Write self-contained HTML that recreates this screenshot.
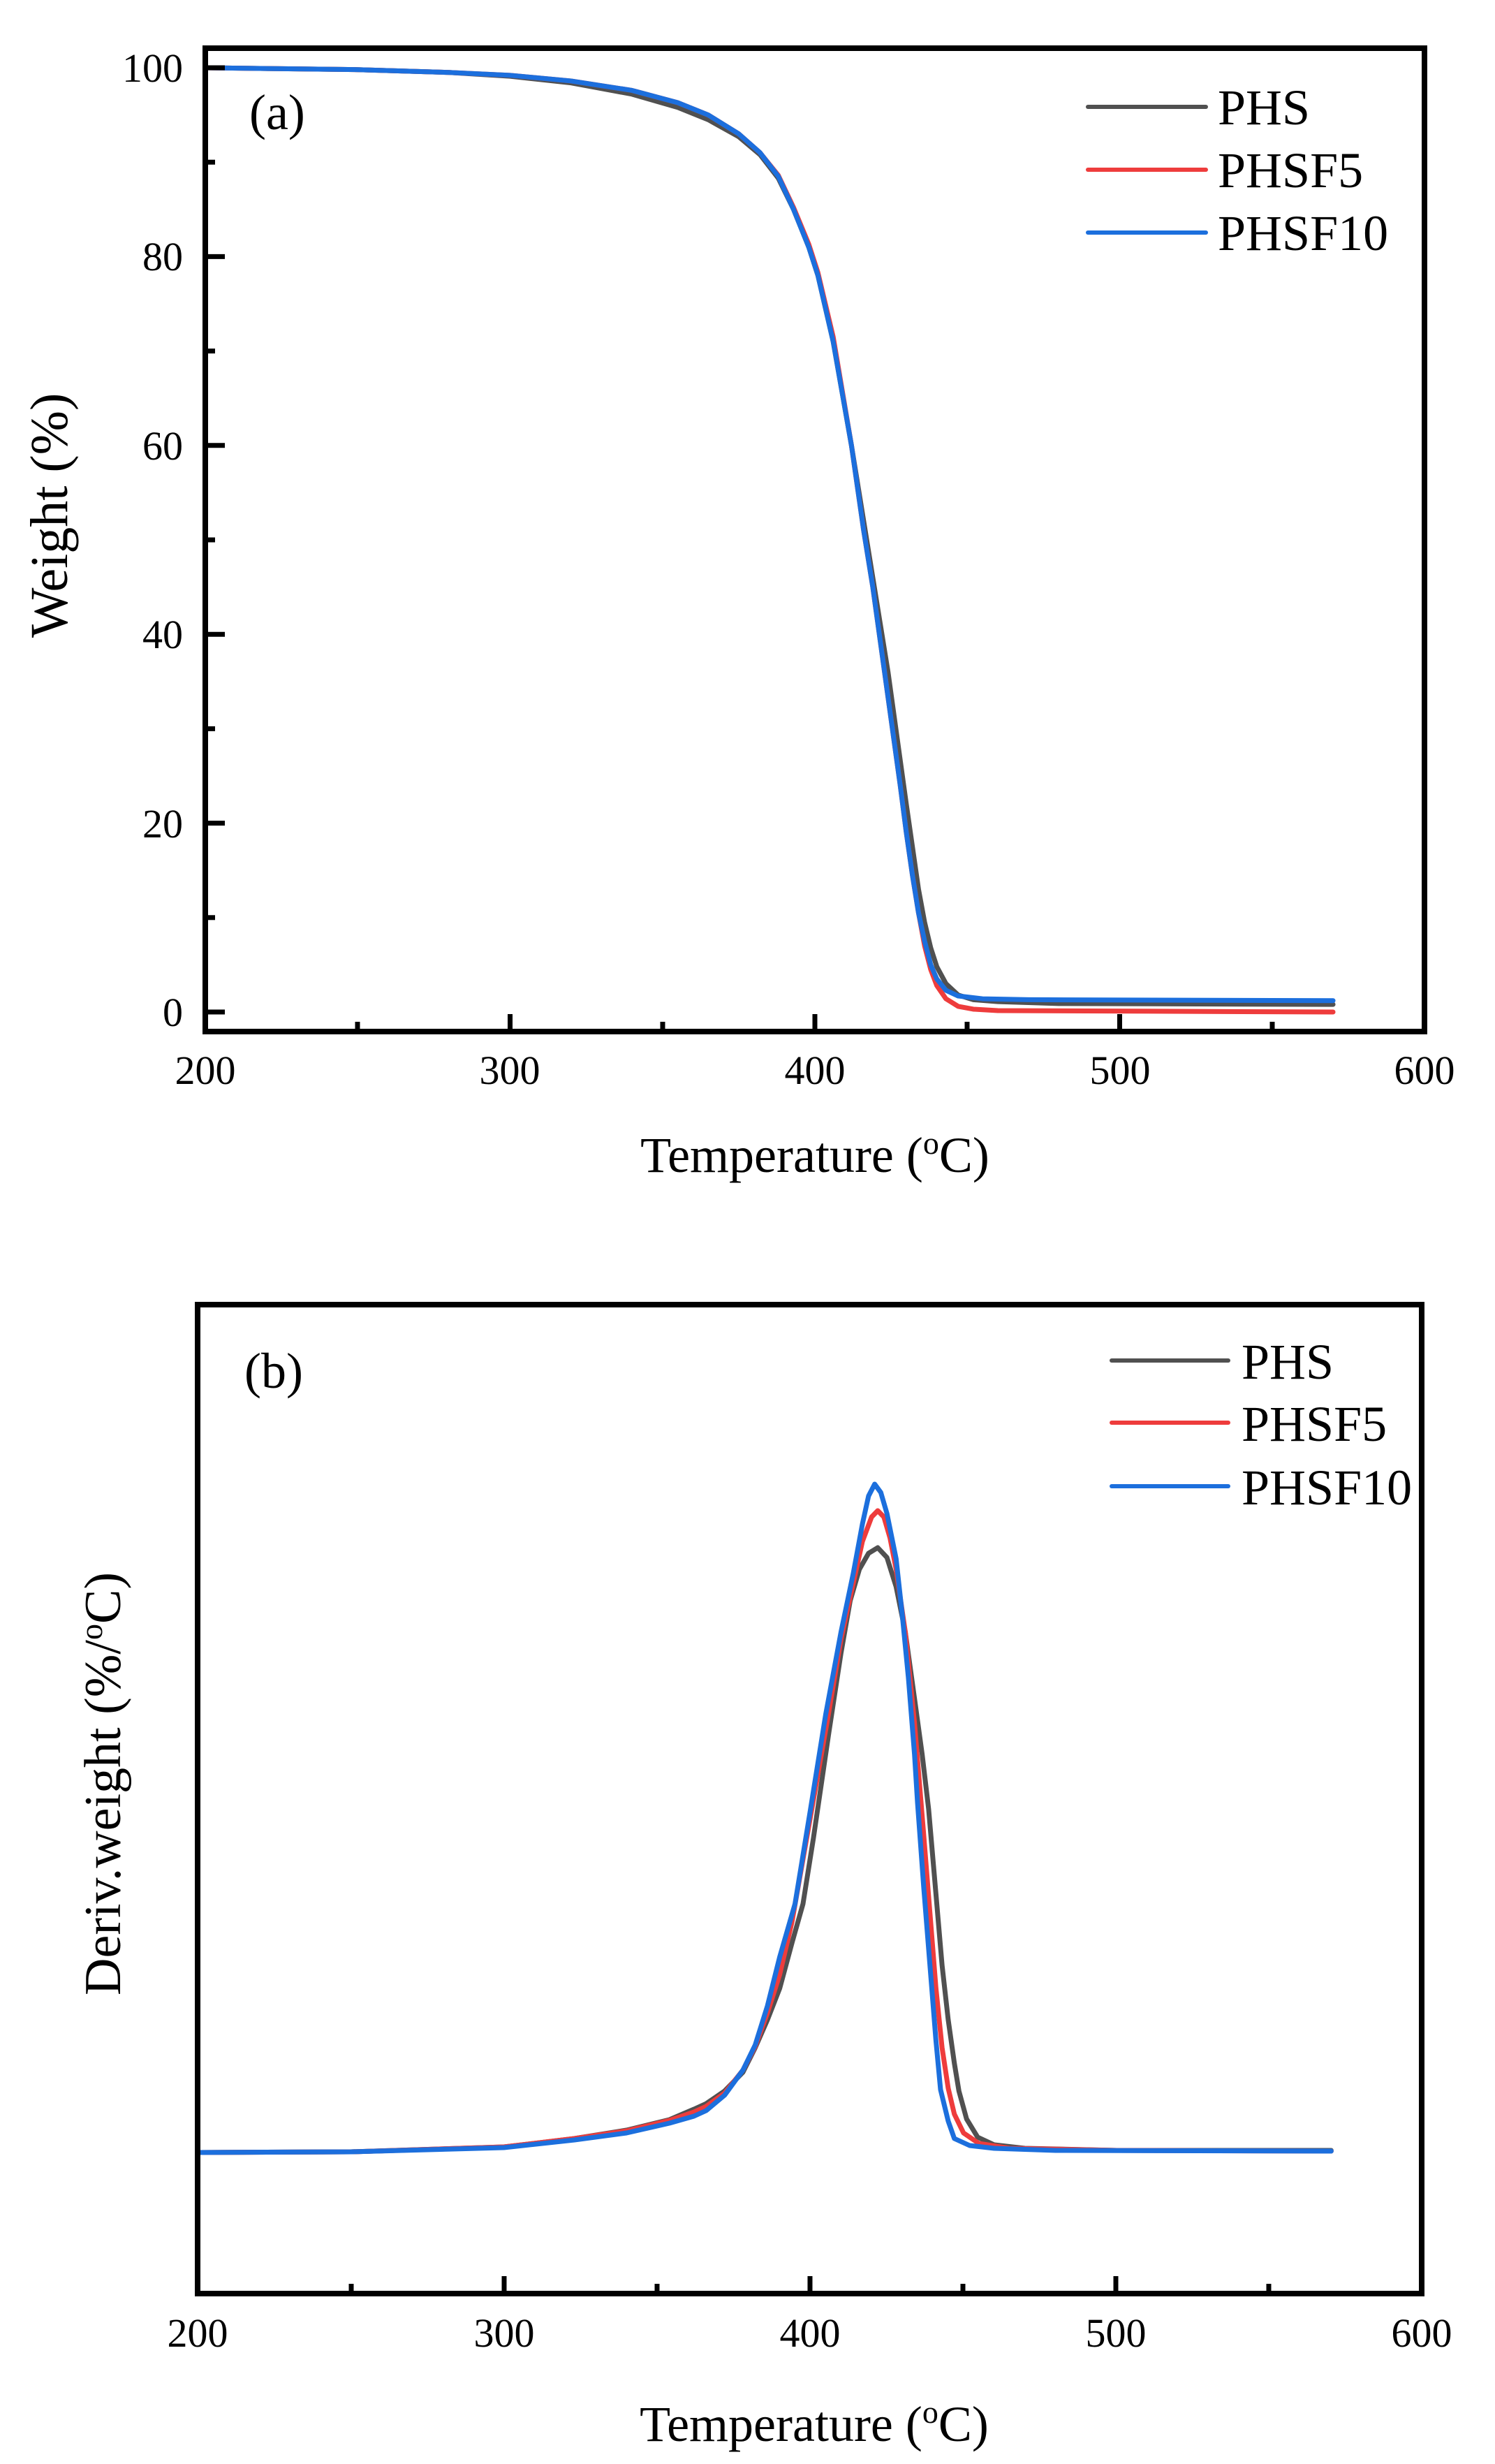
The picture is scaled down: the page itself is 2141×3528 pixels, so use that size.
<!DOCTYPE html>
<html><head><meta charset="utf-8"><style>
html,body{margin:0;padding:0;background:#fff;}
svg{display:block;}
text{font-family:"Liberation Serif",serif;fill:#000;}
</style></head><body>
<svg width="2141" height="3528" viewBox="0 0 2141 3528" xmlns="http://www.w3.org/2000/svg">
<rect width="2141" height="3528" fill="#fff"/>

<!-- ===== Plot (a) ===== -->
<g transform="translate(294,1449) scale(4.365,-13.52) translate(-200,0)" fill="none" stroke-width="7" stroke-linejoin="round" stroke-linecap="round">
<polyline vector-effect="non-scaling-stroke" stroke="#505050" points="200,100 250,99.8 280,99.5 300,99.1 320,98.4 340,97.2 355,95.8 365,94.5 375,92.7 382,90.8 388,88.3 393,85 398,81 401,78 406,71 412,60 416,52 419,46 422,40 424,36 427,29 430,22 432,17.5 434,13 436,9.5 438,6.8 440,4.8 443,3 447,1.8 452,1.3 460,1.1 480,0.9 570,0.8"/>
<polyline vector-effect="non-scaling-stroke" stroke="#ee3c3c" points="200,100 250,99.8 280,99.5 300,99.2 320,98.6 340,97.6 355,96.3 365,95 375,93 382,91 388,88.6 393,85.2 398,81.3 401,78.3 406,71.5 412,60 416,51 419,45 422,38 425,31 428,24 430,19 432,14.5 434,10.5 436,7 438,4.5 440,2.8 443,1.4 447,0.6 452,0.3 460,0.15 570,0"/>
<polyline vector-effect="non-scaling-stroke" stroke="#1c6fdd" points="200,100 250,99.8 280,99.5 300,99.2 320,98.6 340,97.6 355,96.3 365,95 375,93 382,91 388,88.5 393,85 398,81 401,78 406,71 412,60 416,51 419,45 422,38 425,31 428,24 430,19 432,14.5 434,10.5 436,7.5 438,5 440,3.5 443,2.3 447,1.7 455,1.4 470,1.3 570,1.2"/>
</g>
<rect x="294" y="69" width="1746" height="1408" fill="none" stroke="#000" stroke-width="8"/>
<g stroke="#000" stroke-width="7">
<line x1="730.5" y1="1477" x2="730.5" y2="1452"/><line x1="1167" y1="1477" x2="1167" y2="1452"/><line x1="1603.5" y1="1477" x2="1603.5" y2="1452"/>
<line x1="512" y1="1477" x2="512" y2="1463"/><line x1="949" y1="1477" x2="949" y2="1463"/><line x1="1385" y1="1477" x2="1385" y2="1463"/><line x1="1822" y1="1477" x2="1822" y2="1463"/>
<line x1="294" y1="1449" x2="322" y2="1449"/><line x1="294" y1="1178.6" x2="322" y2="1178.6"/><line x1="294" y1="908.2" x2="322" y2="908.2"/><line x1="294" y1="637.8" x2="322" y2="637.8"/><line x1="294" y1="367.4" x2="322" y2="367.4"/><line x1="294" y1="97" x2="322" y2="97"/>
<line x1="294" y1="1313.8" x2="308" y2="1313.8"/><line x1="294" y1="1043.4" x2="308" y2="1043.4"/><line x1="294" y1="773" x2="308" y2="773"/><line x1="294" y1="502.6" x2="308" y2="502.6"/><line x1="294" y1="232.2" x2="308" y2="232.2"/>
</g>
<g font-size="58" text-anchor="end">
<text x="262" y="1469">0</text><text x="262" y="1199">20</text><text x="262" y="928">40</text><text x="262" y="658">60</text><text x="262" y="387">80</text><text x="262" y="117">100</text>
</g>
<g font-size="58" text-anchor="middle">
<text x="294" y="1552">200</text><text x="730" y="1552">300</text><text x="1167" y="1552">400</text><text x="1604" y="1552">500</text><text x="2040" y="1552">600</text>
</g>
<text x="1167" y="1678" font-size="72" text-anchor="middle">Temperature (<tspan font-size="46" dy="-26">o</tspan><tspan dy="26">C)</tspan></text>
<text transform="translate(96,738) rotate(-90)" font-size="76" text-anchor="middle">Weight (%)</text>
<text x="357" y="185" font-size="72">(a)</text>
<g stroke-width="6" stroke-linecap="round">
<line x1="1558" y1="153" x2="1727" y2="153" stroke="#505050"/>
<line x1="1558" y1="243" x2="1727" y2="243" stroke="#ee3c3c"/>
<line x1="1558" y1="333" x2="1727" y2="333" stroke="#1c6fdd"/>
</g>
<g font-size="72"><text x="1744" y="178">PHS</text><text x="1744" y="268">PHSF5</text><text x="1744" y="358">PHSF10</text></g>

<!-- ===== Plot (b) ===== -->
<g transform="translate(283,3082) scale(4.3875,-1) translate(-200,0)" fill="none" stroke-width="7" stroke-linejoin="round" stroke-linecap="round">
<polyline vector-effect="non-scaling-stroke" stroke="#505050" points="200,0 250,1 300,8 323,20 340,32 354,47 362,62 366,70 372,88 378,115 382,150 386,190 390,235 394,300 397.6,356 401,450 406,600 410,715 413,790 416,835 419,858 422,866 425,852 428,810 431,745 434,650 436.5,570 438.6,492 441,370 443,268 445,190 447,128 448.5,88 451,48 454.6,22 460,11 470,6 500,3 570,3"/>
<polyline vector-effect="non-scaling-stroke" stroke="#ee3c3c" points="200,0 250,1 300,8 323,20 340,31 354,46 362,58 366,66 372,85 378,118 382,152 386,200 390,255 394,330 397,405 401,505 406,630 410,735 414,815 417,875 420,910 422,919 424,910 426,880 428,835 431,745 434,615 437,455 439,345 441,235 443,150 445,92 447,55 450,28 455,13 465,6 500,3 570,2"/>
<polyline vector-effect="non-scaling-stroke" stroke="#1c6fdd" points="200,0 250,1 300,7 323,18 340,28 354,42 362,52 366,60 372,82 378,118 382,154 386,210 390,280 395,356 400,490 405,627 410,745 414,829 417,900 419,940 421,957 423,945 425,915 428,850 430,770 432,680 434,570 435,500 437,380 439,270 441,160 442.5,90 445,45 447,20 452,10 460,6 480,3 570,2"/>
</g>
<rect x="283" y="1868" width="1753" height="1416" fill="none" stroke="#000" stroke-width="8"/>
<g stroke="#000" stroke-width="7">
<line x1="722" y1="3284" x2="722" y2="3259"/><line x1="1160" y1="3284" x2="1160" y2="3259"/><line x1="1598" y1="3284" x2="1598" y2="3259"/>
<line x1="503" y1="3284" x2="503" y2="3270"/><line x1="941" y1="3284" x2="941" y2="3270"/><line x1="1379" y1="3284" x2="1379" y2="3270"/><line x1="1817" y1="3284" x2="1817" y2="3270"/>
</g>
<g font-size="58" text-anchor="middle">
<text x="283" y="3360">200</text><text x="722" y="3360">300</text><text x="1160" y="3360">400</text><text x="1598" y="3360">500</text><text x="2036" y="3360">600</text>
</g>
<text x="1166" y="3495" font-size="72" text-anchor="middle">Temperature (<tspan font-size="46" dy="-26">o</tspan><tspan dy="26">C)</tspan></text>
<text transform="translate(172,2554) rotate(-90)" font-size="74" text-anchor="middle">Deriv.weight (%/<tspan font-size="46" dy="-26">o</tspan><tspan dy="26">C)</tspan></text>
<text x="350" y="1987" font-size="72">(b)</text>
<g stroke-width="6" stroke-linecap="round">
<line x1="1592" y1="1948" x2="1759" y2="1948" stroke="#505050"/>
<line x1="1592" y1="2037" x2="1759" y2="2037" stroke="#ee3c3c"/>
<line x1="1592" y1="2128" x2="1759" y2="2128" stroke="#1c6fdd"/>
</g>
<g font-size="72"><text x="1778" y="1974">PHS</text><text x="1778" y="2063">PHSF5</text><text x="1778" y="2154">PHSF10</text></g>
</svg>
</body></html>
